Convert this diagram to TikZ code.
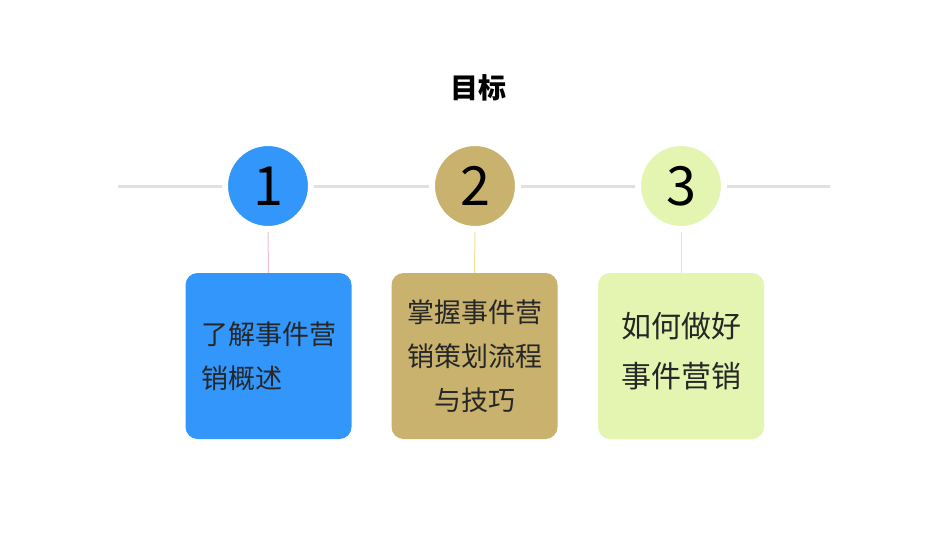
\documentclass[tikz,border=0pt]{standalone}
\usepackage{fontspec}
\setmainfont{Noto Sans CJK SC}
\setsansfont{Noto Sans CJK SC}
\definecolor{cblue}{HTML}{3396FA}
\definecolor{ctan}{HTML}{C8B26E}
\definecolor{cgreen}{HTML}{E3F5B0}
\definecolor{cline}{HTML}{E0E0E0}
\definecolor{ctxt}{HTML}{262626}
\begin{document}
\begin{tikzpicture}[x=1pt,y=-1pt,
  circ/.style={circle,minimum size=86pt,inner sep=0pt,font=\fontsize{54}{56}\selectfont},
  card/.style={rounded corners=12pt,minimum width=166pt,minimum height=166pt,inner sep=0pt,text=ctxt,font=\fontsize{27}{44}\selectfont},
  stem/.style={line width=1pt}]
\useasboundingbox[fill=white] (0,0) rectangle (950,535);
\node[font=\bfseries\fontsize{28}{30}\selectfont] (title) at (478,88) {目标};
\coordinate (l0) at (118,186);
\coordinate (l1) at (830,186);
\draw[cline,line width=3pt] (l0) -- (l1);
\node[circ,fill=cblue,draw=white,line width=6pt] (c1) at (268,186) {1};
\node[circ,fill=ctan,draw=white,line width=6pt] (c2) at (475,186) {2};
\node[circ,fill=cgreen,draw=white,line width=6pt] (c3) at (681,186) {3};
\node[card,fill=cblue,align=left] (b1) at (268.5,356) {了解事件营\\销概述};
\node[card,fill=ctan,align=center] (b2) at (474.5,356) {掌握事件营\\销策划流程\\与技巧};
\node[card,fill=cgreen,align=center,font=\fontsize{30}{50}\selectfont,text=ctxt,text depth=12pt] (b3) at (681,356) {如何做好\\事件营销};
\draw[stem,draw={rgb,255:red,240;green,190;blue,200}] (c1.south) -- (b1.north);
\draw[stem,draw={rgb,255:red,240;green,225;blue,150}] (c2.south) -- (b2.north);
\draw[stem,draw={rgb,255:red,225;green,238;blue,165}] (c3.south) -- (b3.north);
\end{tikzpicture}
\end{document}
